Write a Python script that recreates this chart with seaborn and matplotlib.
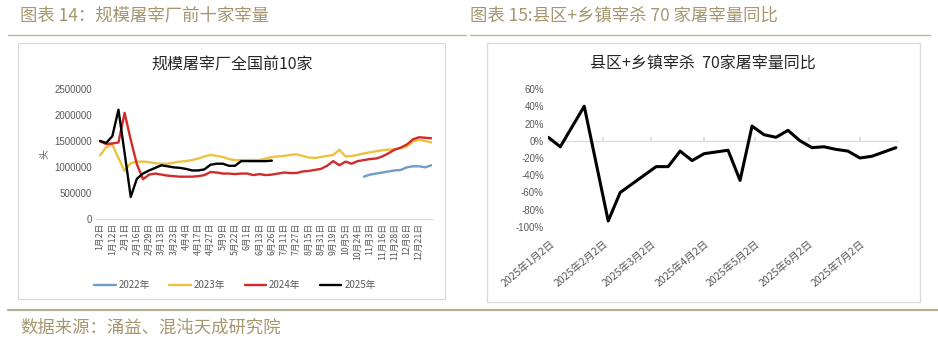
import numpy as np
import pandas as pd
import matplotlib
matplotlib.use("Agg")
import matplotlib.pyplot as plt
import seaborn as sns
from matplotlib.patches import Rectangle
from matplotlib.lines import Line2D

# ---------------- data ----------------
header_left = "图表 14：规模屠宰厂前十家宰量"
header_right = "图表 15:县区+乡镇宰杀 70 家屠宰量同比"
footer = "数据来源：涌益、混沌天成研究院"
title_left = "规模屠宰厂全国前10家"
title_right = "县区+乡镇宰杀  70家屠宰量同比"

left_tick_labels = ["1月2日", "1月12日", "2月1日", "2月16日", "2月29日", "3月13日", "3月23日",
                    "4月4日", "4月17日", "4月27日", "5月9日", "5月22日", "6月1日", "6月13日",
                    "6月26日", "7月11日", "7月27日", "8月15日", "8月31日", "9月19日", "10月5日",
                    "10月24日", "11月3日", "11月16日", "11月28日", "12月8日", "12月21日"]
series_names = ["2022年", "2023年", "2024年", "2025年"]
nan = np.nan
y2022 = [nan] * 43 + [0.81, 0.85, 0.87, 0.89, 0.91, 0.93, 0.94, 0.99, 1.01, 1.01, 0.99, 1.03]
y2023 = [1.22, 1.38, 1.43, 1.17, 0.92, 1.07, 1.10, 1.10, 1.09, 1.07,
         1.06, 1.06, 1.08, 1.10, 1.11, 1.13, 1.16, 1.20, 1.23, 1.21,
         1.19, 1.15, 1.13, 1.13, 1.13, 1.13, 1.13, 1.16, 1.19, 1.20,
         1.21, 1.23, 1.24, 1.21, 1.18, 1.17, 1.19, 1.21, 1.23, 1.33,
         1.20, 1.21, 1.23, 1.26, 1.28, 1.30, 1.32, 1.33, 1.34, 1.36,
         1.39, 1.49, 1.52, 1.50, 1.47]
y2024 = [1.49, 1.44, 1.45, 1.47, 2.04, 1.52, 1.05, 0.76, 0.85, 0.87,
         0.85, 0.83, 0.82, 0.81, 0.81, 0.81, 0.82, 0.84, 0.90, 0.89,
         0.87, 0.87, 0.86, 0.87, 0.87, 0.84, 0.86, 0.84, 0.85, 0.87,
         0.89, 0.88, 0.88, 0.91, 0.92, 0.94, 0.96, 1.02, 1.11, 1.03,
         1.10, 1.06, 1.11, 1.13, 1.15, 1.16, 1.20, 1.26, 1.33, 1.37,
         1.43, 1.53, 1.57, 1.56, 1.55]
y2025 = [1.50, 1.46, 1.59, 2.10, 1.27, 0.42, 0.77, 0.87, 0.93, 0.98,
         1.03, 1.01, 0.99, 0.98, 0.96, 0.93, 0.93, 0.95, 1.04, 1.06,
         1.06, 1.02, 1.02, 1.11, 1.11, 1.11, 1.11, 1.11, 1.12] + [nan] * 26
left_yticks = [0, 500000, 1000000, 1500000, 2000000, 2500000]

right_dates = ["2025-01-01", "2025-01-08", "2025-01-22", "2025-02-05", "2025-02-12",
               "2025-02-19", "2025-02-26", "2025-03-05", "2025-03-12", "2025-03-19",
               "2025-03-26", "2025-04-02", "2025-04-09", "2025-04-16", "2025-04-23",
               "2025-04-30", "2025-05-07", "2025-05-14", "2025-05-21", "2025-05-28",
               "2025-06-04", "2025-06-11", "2025-06-18", "2025-06-25", "2025-07-02",
               "2025-07-09", "2025-07-16", "2025-07-23"]
right_yoy = [4, -7, 40, -93, -60, -50, -40, -30, -30, -12,
             -23, -15, -13, -11, -46, 17, 7, 4, 12, 0,
             -8, -7, -10, -12, -20, -18, -13, -8]
right_tick_dates = ["2025-01-02", "2025-02-02", "2025-03-02", "2025-04-02",
                    "2025-05-02", "2025-06-02", "2025-07-02"]
right_tick_labels = ["2025年1月2日", "2025年2月2日", "2025年3月2日", "2025年4月2日",
                     "2025年5月2日", "2025年6月2日", "2025年7月2日"]
right_yticks = [-100, -80, -60, -40, -20, 0, 20, 40, 60]

colors = {"2022年": "#6F9CC6", "2023年": "#EBC341", "2024年": "#D12B2B", "2025年": "#000000"}

# ---------------- style ----------------
sns.set_theme(style="white")
plt.rcParams["font.family"] = ["Liberation Sans", "Noto Sans CJK SC", "DejaVu Sans"]
CJK = ["Noto Sans CJK SC", "DejaVu Sans"]
HDR = "#A4976F"
TXT = "#595959"
GRID = "#D9D9D9"

W, H = 938, 345
fig = plt.figure(figsize=(W / 100, H / 100), dpi=100)

def fx(px):
    return px / W

def fy(py):
    return 1 - py / H

# headers, rules, footer
fig.text(fx(20), fy(16), header_left, family=CJK, fontsize=12.5, color=HDR, va="center", ha="left")
fig.text(fx(470), fy(16), header_right, family=CJK, fontsize=12.5, color=HDR, va="center", ha="left")
fig.add_artist(Line2D([fx(8), fx(466)], [fy(35), fy(35)], color="#BDB49C", lw=1.0))
fig.add_artist(Line2D([fx(470), fx(930)], [fy(35), fy(35)], color="#BDB49C", lw=1.0))
fig.add_artist(Line2D([fx(8), fx(938)], [fy(309.5), fy(309.5)], color="#B3AE94", lw=1.6))
fig.text(fx(20), fy(328), footer, family=CJK, fontsize=12.5, color=HDR, va="center", ha="left")

# chart boxes
fig.add_artist(Rectangle((fx(18), fy(299)), fx(445) - fx(18), fy(43) - fy(299),
                         transform=fig.transFigure, fill=False, edgecolor=GRID, lw=0.9))
fig.add_artist(Rectangle((fx(487), fy(302)), fx(920) - fx(487), fy(43) - fy(302),
                         transform=fig.transFigure, fill=False, edgecolor=GRID, lw=0.9))

# ---------------- left chart ----------------
axL = fig.add_axes([fx(96), fy(218.7), fx(432) - fx(96), fy(89) - fy(218.7)])
npts = len(y2023)
pos = np.arange(npts) / 2.0
frames = []
for name, vals in zip(series_names, [y2022, y2023, y2024, y2025]):
    frames.append(pd.DataFrame({"pos": pos, "value": np.array(vals) * 1e6, "year": name}))
dfL = pd.concat(frames, ignore_index=True).dropna()
sns.lineplot(data=dfL, x="pos", y="value", hue="year", hue_order=series_names,
             palette=colors, linewidth=1.7, ax=axL, estimator=None, sort=False)
axL.set_xlim(-0.33, 27.05)
axL.set_ylim(0, 2500000)
axL.set_yticks(left_yticks)
axL.set_yticklabels([str(v) for v in left_yticks], fontsize=7, color=TXT)
axL.set_xticks(np.arange(len(left_tick_labels)))
axL.set_xticklabels(left_tick_labels, rotation=90, fontsize=6.3, color=TXT, family=CJK)
axL.tick_params(axis="both", length=0, pad=3)
axL.set_xlabel("")
axL.set_ylabel("头", family=CJK, fontsize=7, color=TXT, labelpad=4)
for s in ["top", "right", "left"]:
    axL.spines[s].set_visible(False)
axL.spines["bottom"].set_color(GRID)
axL.spines["bottom"].set_linewidth(0.9)
axL.set_facecolor("none")
handles, labels = axL.get_legend_handles_labels()
axL.get_legend().remove()
fig.text(fx(232), fy(64), title_left, family=CJK, fontsize=11.5, color="#262626", ha="center", va="center")
leg = fig.legend(handles, labels, loc="center", bbox_to_anchor=(fx(235), fy(285)), ncol=4,
                 frameon=False, handlelength=2.2, columnspacing=2.0, handletextpad=0.3,
                 prop={"family": CJK, "size": 7})
for t in leg.get_texts():
    t.set_color(TXT)

# ---------------- right chart ----------------
axR = fig.add_axes([fx(548), fy(227), fx(898) - fx(548), fy(89) - fy(227)])
dfR = pd.DataFrame({"date": pd.to_datetime(right_dates), "yoy": right_yoy})
sns.lineplot(data=dfR, x="date", y="yoy", color="black", linewidth=2.2, ax=axR, zorder=3)
axR.set_xlim(pd.Timestamp("2024-12-31 20:00"), pd.Timestamp("2025-07-24 06:00"))
axR.set_ylim(-100, 60)
sec = axR.secondary_xaxis(100 / 160)
sec.set_xticks(pd.to_datetime(right_tick_dates))
sec.set_xticklabels([""] * len(right_tick_dates))
sec.tick_params(axis="x", length=3, color=GRID, direction="out")
for s in sec.spines.values():
    s.set_color(GRID)
    s.set_linewidth(0.9)
axR.set_yticks(right_yticks)
axR.set_yticklabels([f"{v}%" for v in right_yticks], fontsize=7, color=TXT)
axR.set_xticks(pd.to_datetime(right_tick_dates))
axR.set_xticklabels(right_tick_labels, rotation=40, ha="right", rotation_mode="anchor",
                    fontsize=7.5, color=TXT, family=CJK)
axR.tick_params(axis="x", length=0, pad=8)
axR.tick_params(axis="y", length=0, pad=3)
axR.set_xlabel("")
axR.set_ylabel("")
for s in ["top", "right", "left", "bottom"]:
    axR.spines[s].set_visible(False)
axR.set_facecolor("none")
fig.text(fx(703), fy(64), title_right, family=CJK, fontsize=11.5, color="#262626", ha="center", va="center")

fig.savefig("out.png", dpi=100, facecolor="white")
